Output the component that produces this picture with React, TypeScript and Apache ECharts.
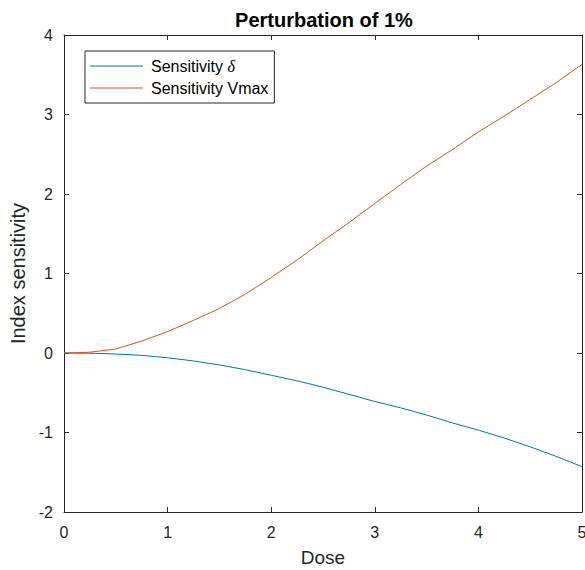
import React, { useEffect, useRef } from "react";
import * as echarts from "echarts";

const doses = [0, 0.25, 0.5, 0.75, 1, 1.25, 1.5, 1.75, 2, 2.25, 2.5, 2.75, 3, 3.25, 3.5, 3.75, 4, 4.25, 4.5, 4.75, 5];
const sensDelta = [0, -0.003, -0.012, -0.03, -0.06, -0.1, -0.15, -0.21, -0.28, -0.35, -0.43, -0.52, -0.61, -0.69, -0.78, -0.88, -0.97, -1.07, -1.18, -1.3, -1.43];
const sensVmax = [0, 0.01, 0.05, 0.15, 0.27, 0.41, 0.56, 0.74, 0.95, 1.17, 1.41, 1.64, 1.88, 2.12, 2.35, 2.56, 2.78, 2.98, 3.19, 3.4, 3.63];
const seriesNames = ["Sensitivity δ", "Sensitivity Vmax"];
const titleText = "Perturbation of 1%";
const xName = "Dose";
const yName = "Index sensitivity";

const FONT = "'Liberation Sans', Arial, Helvetica, sans-serif";
const INK = "#262626";
const COLORS = ["#0072BD", "#D95319"];

export default function App() {
  const ref = useRef<HTMLDivElement>(null);
  useEffect(() => {
    if (!ref.current) return;
    const chart = echarts.init(ref.current, null, { renderer: "svg" });
    const axisCommon = {
      type: "value" as const,
      axisLine: { show: true, onZero: false, lineStyle: { color: INK, width: 1 } },
      axisTick: { show: true, inside: true, length: 5, lineStyle: { color: INK, width: 1 } },
      splitLine: { show: false },
    };
    chart.setOption({
      animation: false,
      backgroundColor: "#ffffff",
      textStyle: { fontFamily: FONT },
      title: {
        text: titleText,
        left: 324,
        top: 10,
        textAlign: "center",
        padding: 0,
        textStyle: { fontFamily: FONT, fontSize: 20, fontWeight: "bold", color: "#000000" },
      },
      legend: {
        orient: "vertical",
        left: 85,
        top: 51,
        padding: [7, 6, 7, 5],
        icon: "rect",
        itemWidth: 53,
        itemHeight: 1.2,
        itemGap: 6,
        borderColor: INK,
        borderWidth: 1,
        backgroundColor: "#ffffff",
        data: seriesNames,
        formatter: (name: string) => (name === seriesNames[0] ? "Sensitivity {i|δ}" : name),
        textStyle: {
          fontFamily: FONT,
          fontSize: 16,
          lineHeight: 16,
          color: "#000000",
          padding: [0, 0, 0, 3],
          rich: {
            i: { fontFamily: "'Liberation Serif', 'DejaVu Serif', serif", fontStyle: "italic", fontSize: 16, lineHeight: 16, color: "#000000" },
          },
        },
      },
      grid: { left: 64, right: 3, top: 35, bottom: 58, containLabel: false, outerBoundsMode: "none" },
      xAxis: [
        {
          ...axisCommon,
          position: "bottom",
          min: 0,
          max: 5,
          interval: 1,
          name: xName,
          nameLocation: "middle",
          nameGap: 36,
          nameTextStyle: { fontFamily: FONT, fontSize: 19, color: INK },
          axisLabel: { show: true, margin: 12, fontFamily: FONT, fontSize: 16, color: INK },
        },
        {
          ...axisCommon,
          position: "top",
          min: 0,
          max: 5,
          interval: 1,
          axisLabel: { show: false },
        },
      ],
      yAxis: [
        {
          ...axisCommon,
          position: "left",
          min: -2,
          max: 4,
          interval: 1,
          name: yName,
          nameLocation: "middle",
          nameGap: 32,
          nameRotate: 90,
          nameTextStyle: { fontFamily: FONT, fontSize: 20, color: INK },
          axisLabel: { show: true, margin: 11, fontFamily: FONT, fontSize: 16, color: INK },
        },
        {
          ...axisCommon,
          position: "right",
          min: -2,
          max: 4,
          interval: 1,
          axisLabel: { show: false },
        },
      ],
      series: [
        {
          name: seriesNames[0],
          type: "line",
          xAxisIndex: 0,
          yAxisIndex: 0,
          data: doses.map((d, i) => [d, sensDelta[i]]),
          symbol: "none",
          showSymbol: false,
          lineStyle: { color: COLORS[0], width: 1 },
          itemStyle: { color: COLORS[0] },
        },
        {
          name: seriesNames[1],
          type: "line",
          xAxisIndex: 0,
          yAxisIndex: 0,
          data: doses.map((d, i) => [d, sensVmax[i]]),
          symbol: "none",
          showSymbol: false,
          lineStyle: { color: COLORS[1], width: 1 },
          itemStyle: { color: COLORS[1] },
        },
      ],
    });
    return () => chart.dispose();
  }, []);
  return (
    <div
      ref={ref}
      style={{ position: "absolute", left: 0, top: 0, width: 585, height: 570, background: "#fff" }}
    />
  );
}
